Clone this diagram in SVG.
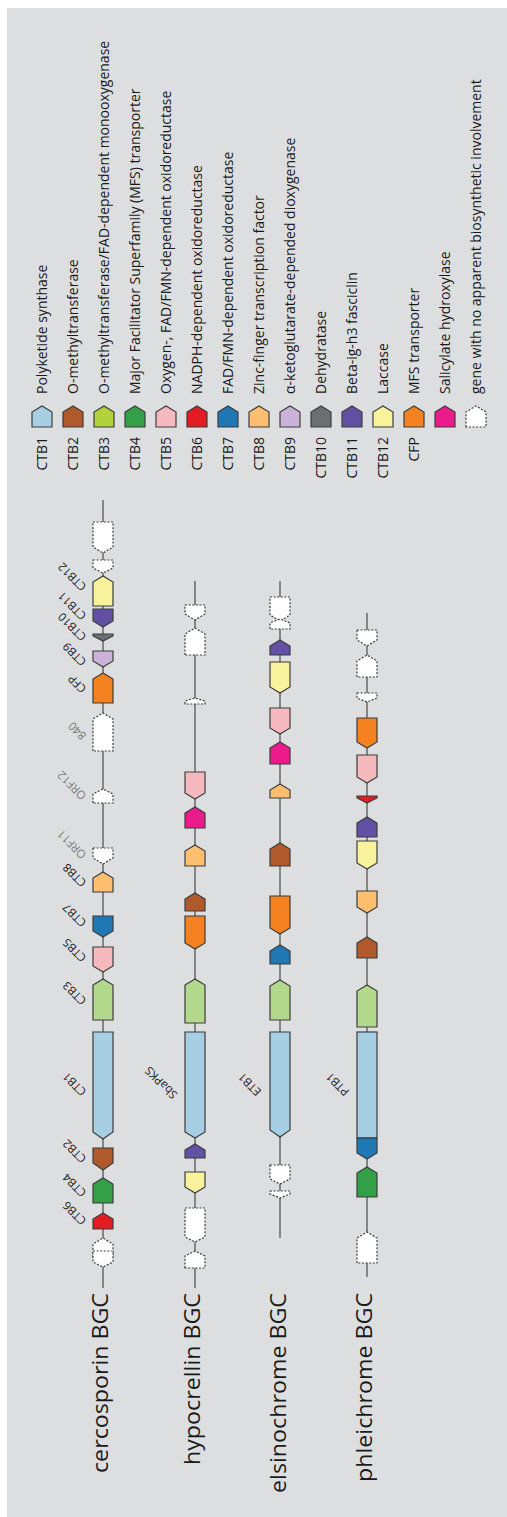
<svg xmlns="http://www.w3.org/2000/svg" width="507" height="1517" viewBox="0 0 507 1517">
<style>
.bg{fill:#dddee0}
.g{stroke:#3c3c3c;stroke-width:1.2;stroke-linejoin:miter}
.d{fill:#fff;stroke:#3c3c3c;stroke-width:1.2;stroke-dasharray:2 1.6}
.trk{stroke:#858585;stroke-width:2;fill:none}
.c1{fill:#a6cfe4}.c2{fill:#b0592a}.c3{fill:#b3da8c}.c3l{fill:#b1d23a}.c4{fill:#33a047}.c5{fill:#f5b9be}.c6{fill:#e31b23}.c7{fill:#1f77b4}.c8{fill:#fdbf6f}.c9{fill:#cbb2d8}.c10{fill:#6d6e70}.c11{fill:#6150a3}.c12{fill:#f8f29c}.cfp{fill:#f58220}.sal{fill:#ec1b8c}
text{font-family:"Open Sans","Liberation Sans",sans-serif;fill:#1a1a1a}
.lg{font-size:14px}
.gl{font-size:11.5px}
.gr{fill:#7a7a7a}
.tt{font-size:21px}
</style>
<rect x="7" y="8" width="500" height="1509" class="bg"/>

<g id="legend">
<g id="leg-ctb1"><polygon class="g c1" points="32,427 32,412 42,406 52,412 52,427"/><text class="lg" text-anchor="end" transform="rotate(-90 47 437)" x="47" y="437">CTB1</text><text class="lg" transform="rotate(-90 47 394)" x="47" y="394">Polyketide synthase</text></g>
<g id="leg-ctb2"><polygon class="g c2" points="63,427 63,412 73,406 83,412 83,427"/><text class="lg" text-anchor="end" transform="rotate(-90 78 437)" x="78" y="437">CTB2</text><text class="lg" transform="rotate(-90 78 394)" x="78" y="394">O-methyltransferase</text></g>
<g id="leg-ctb3"><polygon class="g c3l" points="94,427 94,412 104,406 114,412 114,427"/><text class="lg" text-anchor="end" transform="rotate(-90 109 437)" x="109" y="437">CTB3</text><text class="lg" transform="rotate(-90 109 394)" x="109" y="394">O-methyltransferase/FAD-dependent monooxygenase</text></g>
<g id="leg-ctb4"><polygon class="g c4" points="125,427 125,412 135,406 145,412 145,427"/><text class="lg" text-anchor="end" transform="rotate(-90 140 437)" x="140" y="437">CTB4</text><text class="lg" transform="rotate(-90 140 394)" x="140" y="394">Major Facilitator Superfamily (MFS) transporter</text></g>
<g id="leg-ctb5"><polygon class="g c5" points="156,427 156,412 166,406 176,412 176,427"/><text class="lg" text-anchor="end" transform="rotate(-90 171 437)" x="171" y="437">CTB5</text><text class="lg" transform="rotate(-90 171 394)" x="171" y="394">Oxygen-, FAD/FMN-dependent oxidoreductase</text></g>
<g id="leg-ctb6"><polygon class="g c6" points="187,427 187,412 197,406 207,412 207,427"/><text class="lg" text-anchor="end" transform="rotate(-90 202 437)" x="202" y="437">CTB6</text><text class="lg" transform="rotate(-90 202 394)" x="202" y="394">NADPH-dependent oxidoreductase</text></g>
<g id="leg-ctb7"><polygon class="g c7" points="218,427 218,412 228,406 238,412 238,427"/><text class="lg" text-anchor="end" transform="rotate(-90 233 437)" x="233" y="437">CTB7</text><text class="lg" transform="rotate(-90 233 394)" x="233" y="394">FAD/FMN-dependent oxidoreductase</text></g>
<g id="leg-ctb8"><polygon class="g c8" points="249,427 249,412 259,406 269,412 269,427"/><text class="lg" text-anchor="end" transform="rotate(-90 264 437)" x="264" y="437">CTB8</text><text class="lg" transform="rotate(-90 264 394)" x="264" y="394">Zinc-finger transcription factor</text></g>
<g id="leg-ctb9"><polygon class="g c9" points="280,427 280,412 290,406 300,412 300,427"/><text class="lg" text-anchor="end" transform="rotate(-90 295 437)" x="295" y="437">CTB9</text><text class="lg" transform="rotate(-90 295 394)" x="295" y="394">α-ketoglutarate-depended dioxygenase</text></g>
<g id="leg-ctb10"><polygon class="g c10" points="311,427 311,412 321,406 331,412 331,427"/><text class="lg" text-anchor="end" transform="rotate(-90 326 437)" x="326" y="437">CTB10</text><text class="lg" transform="rotate(-90 326 394)" x="326" y="394">Dehydratase</text></g>
<g id="leg-ctb11"><polygon class="g c11" points="342,427 342,412 352,406 362,412 362,427"/><text class="lg" text-anchor="end" transform="rotate(-90 357 437)" x="357" y="437">CTB11</text><text class="lg" transform="rotate(-90 357 394)" x="357" y="394">Beta-ig-h3 fasciclin</text></g>
<g id="leg-ctb12"><polygon class="g c12" points="373,427 373,412 383,406 393,412 393,427"/><text class="lg" text-anchor="end" transform="rotate(-90 388 437)" x="388" y="437">CTB12</text><text class="lg" transform="rotate(-90 388 394)" x="388" y="394">Laccase</text></g>
<g id="leg-cfp"><polygon class="g cfp" points="404,427 404,412 414,406 424,412 424,427"/><text class="lg" text-anchor="end" transform="rotate(-90 419 437)" x="419" y="437">CFP</text><text class="lg" transform="rotate(-90 419 394)" x="419" y="394">MFS transporter</text></g>
<g id="leg-sal"><polygon class="g sal" points="435,427 435,412 445,406 455,412 455,427"/><text class="lg" transform="rotate(-90 450 394)" x="450" y="394">Salicylate hydroxylase</text></g>
<g id="leg-gene"><polygon class="d" points="466,427 466,412 476,406 486,412 486,427"/><text class="lg" transform="rotate(-90 481 394)" x="481" y="394">gene with no apparent biosynthetic involvement</text></g>
</g>

<g id="connectors">
<line class="trk" x1="103" y1="500" x2="103" y2="1288"/>
<line class="trk" x1="195" y1="581" x2="195" y2="1288"/>
<line class="trk" x1="280" y1="581" x2="280" y2="1238"/>
<line class="trk" x1="367" y1="613" x2="367" y2="1277"/>
</g>

<g id="titles">
<text id="t-cerco" class="tt" text-anchor="end" textLength="180" lengthAdjust="spacingAndGlyphs" transform="rotate(-90 108 1293)" x="108" y="1293">cercosporin BGC</text>
<text id="t-hypo" class="tt" text-anchor="end" textLength="172" lengthAdjust="spacingAndGlyphs" transform="rotate(-90 200 1293)" x="200" y="1293">hypocrellin BGC</text>
<text id="t-elsi" class="tt" text-anchor="end" textLength="200" lengthAdjust="spacingAndGlyphs" transform="rotate(-90 286 1293)" x="286" y="1293">elsinochrome BGC</text>
<text id="t-phlei" class="tt" text-anchor="end" textLength="189" lengthAdjust="spacingAndGlyphs" transform="rotate(-90 372 1293)" x="372" y="1293">phleichrome BGC</text>
</g>

<g id="cercosporin">
<g id="ce-d1"><polygon class="d" points="93,522 113,522 113,547 103,553 93,547"/></g>
<g id="ce-d2"><polygon class="d" points="93,560 113,560 113,568 103,573 93,568"/></g>
<g id="ce-ctb12"><polygon class="g c12" points="93,606 93,582 103,576 113,582 113,606"/><text class="gl" transform="rotate(-135 87 586)" x="87" y="586">CTB12</text></g>
<g id="ce-ctb11"><polygon class="g c11" points="93,609 113,609 113,621 103,627 93,621"/><text class="gl" transform="rotate(-135 87 615)" x="87" y="615">CTB11</text></g>
<g id="ce-ctb10"><polygon class="g c10" points="93,634 113,634 113,636 103,641 93,636"/><text class="gl" transform="rotate(-135 87 636)" x="87" y="636">CTB10</text></g>
<g id="ce-ctb9"><polygon class="g c9" points="93,651 113,651 113,661 103,667 93,661"/><text class="gl" transform="rotate(-135 87 661)" x="87" y="661">CTB9</text></g>
<g id="ce-cfp"><polygon class="g cfp" points="93,703 93,679 103,673 113,679 113,703"/><text class="gl" transform="rotate(-135 87 688)" x="87" y="688">CFP</text></g>
<g id="ce-840"><polygon class="d" points="93,751 93,719 103,713 113,719 113,751"/><text class="gl gr" transform="rotate(-135 87 735)" x="87" y="735">840</text></g>
<g id="ce-orf12"><polygon class="d" points="93,803 93,794 103,789 113,794 113,803"/><text class="gl gr" transform="rotate(-135 87 795)" x="87" y="795">ORF12</text></g>
<g id="ce-orf11"><polygon class="d" points="93,848 113,848 113,858 103,864 93,858"/><text class="gl gr" transform="rotate(-135 87 854)" x="87" y="854">ORF11</text></g>
<g id="ce-ctb8"><polygon class="g c8" points="93,892 93,878 103,872 113,878 113,892"/><text class="gl" transform="rotate(-135 87 882)" x="87" y="882">CTB8</text></g>
<g id="ce-ctb7"><polygon class="g c7" points="93,916 113,916 113,931 103,937 93,931"/><text class="gl" transform="rotate(-135 87 922)" x="87" y="922">CTB7</text></g>
<g id="ce-ctb5"><polygon class="g c5" points="93,947 113,947 113,966 103,972 93,966"/><text class="gl" transform="rotate(-135 87 957)" x="87" y="957">CTB5</text></g>
<g id="ce-ctb3"><polygon class="g c3" points="93,1020 93,985 103,979 113,985 113,1020"/><text class="gl" transform="rotate(-135 87 1000)" x="87" y="1000">CTB3</text></g>
<g id="ce-ctb1"><polygon class="g c1" points="93,1032 113,1032 113,1132 103,1139 93,1132"/><text class="gl" transform="rotate(-135 87 1091)" x="87" y="1091">CTB1</text></g>
<g id="ce-ctb2"><polygon class="g c2" points="93,1148 113,1148 113,1163 103,1170 93,1163"/><text class="gl" transform="rotate(-135 87 1158)" x="87" y="1158">CTB2</text></g>
<g id="ce-ctb4"><polygon class="g c4" points="93,1203 93,1184 103,1178 113,1184 113,1203"/><text class="gl" transform="rotate(-135 87 1192)" x="87" y="1192">CTB4</text></g>
<g id="ce-ctb6"><polygon class="g c6" points="93,1229 93,1219 103,1213 113,1219 113,1229"/><text class="gl" transform="rotate(-135 87 1220)" x="87" y="1220">CTB6</text></g>
<g id="ce-d3"><polygon class="d" points="93,1257 93,1244 103,1238 113,1244 113,1257"/></g>
<g id="ce-d4"><polygon class="d" points="93,1251 113,1251 113,1262 103,1267 93,1262"/></g>
</g>

<g id="hypocrellin">
<g id="hy-d1"><polygon class="d" points="185,605 205,605 205,614 195,620 185,614"/></g>
<g id="hy-d2"><polygon class="d" points="185,655 185,634 195,628 205,634 205,655"/></g>
<g id="hy-d3"><polygon class="d" points="185,704 185,701 195,698 205,701 205,704"/></g>
<g id="hy-ctb5"><polygon class="g c5" points="185,772 205,772 205,793 195,799 185,793"/></g>
<g id="hy-sal"><polygon class="g sal" points="185,828 185,813 195,807 205,813 205,828"/></g>
<g id="hy-ctb8"><polygon class="g c8" points="185,866 185,851 195,845 205,851 205,866"/></g>
<g id="hy-ctb2"><polygon class="g c2" points="185,911 185,899 195,893 205,899 205,911"/></g>
<g id="hy-cfp"><polygon class="g cfp" points="185,916 205,916 205,943 195,949 185,943"/></g>
<g id="hy-ctb3"><polygon class="g c3" points="185,1023 185,985 195,979 205,985 205,1023"/></g>
<g id="hy-sbapks"><polygon class="g c1" points="185,1032 205,1032 205,1132 195,1138 185,1132"/><text class="gl" transform="rotate(-135 178 1094)" x="178" y="1094">SbaPKS</text></g>
<g id="hy-ctb11"><polygon class="g c11" points="185,1158 185,1150 195,1144 205,1150 205,1158"/></g>
<g id="hy-ctb12"><polygon class="g c12" points="185,1172 205,1172 205,1187 195,1193 185,1187"/></g>
<g id="hy-d4"><polygon class="d" points="185,1208 205,1208 205,1237 195,1242 185,1237"/></g>
<g id="hy-d5"><polygon class="d" points="185,1268 185,1256 195,1251 205,1256 205,1268"/></g>
</g>

<g id="elsinochrome">
<g id="el-d1"><polygon class="d" points="270,597 290,597 290,615 280,621 270,615"/></g>
<g id="el-d2"><polygon class="d" points="270,629 270,623 280,619 290,623 290,629"/></g>
<g id="el-ctb11"><polygon class="g c11" points="270,655 270,646 280,640 290,646 290,655"/></g>
<g id="el-ctb12"><polygon class="g c12" points="270,662 290,662 290,687 280,693 270,687"/></g>
<g id="el-ctb5"><polygon class="g c5" points="270,708 290,708 290,728 280,734 270,728"/></g>
<g id="el-sal"><polygon class="g sal" points="270,764 270,748 280,742 290,748 290,764"/></g>
<g id="el-ctb8"><polygon class="g c8" points="270,798 270,790 280,784 290,790 290,798"/></g>
<g id="el-ctb2"><polygon class="g c2" points="270,866 270,849 280,843 290,849 290,866"/></g>
<g id="el-cfp"><polygon class="g cfp" points="270,896 290,896 290,928 280,934 270,928"/></g>
<g id="el-ctb7"><polygon class="g c7" points="270,964 270,951 280,945 290,951 290,964"/></g>
<g id="el-ctb3"><polygon class="g c3" points="270,1020 270,986 280,980 290,986 290,1020"/></g>
<g id="el-etb1"><polygon class="g c1" points="270,1032 290,1032 290,1130 280,1137 270,1130"/><text class="gl" transform="rotate(-135 262 1091)" x="262" y="1091">ETB1</text></g>
<g id="el-d3"><polygon class="d" points="270,1165 290,1165 290,1179 280,1184 270,1179"/></g>
<g id="el-d4"><polygon class="d" points="270,1191 290,1191 290,1194 280,1198 270,1194"/></g>
</g>

<g id="phleichrome">
<g id="ph-d1"><polygon class="d" points="357,630 377,630 377,640 367,646 357,640"/></g>
<g id="ph-d2"><polygon class="d" points="357,677 357,661 367,655 377,661 377,677"/></g>
<g id="ph-d3"><polygon class="d" points="357,693 377,693 377,698 367,702 357,698"/></g>
<g id="ph-cfp"><polygon class="g cfp" points="357,718 377,718 377,742 367,748 357,742"/></g>
<g id="ph-ctb5"><polygon class="g c5" points="357,755 377,755 377,777 367,783 357,777"/></g>
<g id="ph-ctb6"><polygon class="g c6" points="357,796 377,796 377,798 367,803 357,798"/></g>
<g id="ph-ctb11"><polygon class="g c11" points="357,837 357,823 367,817 377,823 377,837"/></g>
<g id="ph-ctb12"><polygon class="g c12" points="357,841 377,841 377,863 367,869 357,863"/></g>
<g id="ph-ctb8"><polygon class="g c8" points="357,891 377,891 377,907 367,913 357,907"/></g>
<g id="ph-ctb2"><polygon class="g c2" points="357,958 357,943 367,937 377,943 377,958"/></g>
<g id="ph-ctb3"><polygon class="g c3" points="357,1027 357,991 367,985 377,991 377,1027"/></g>
<g id="ph-ptb1"><rect class="g c1" x="357" y="1032" width="20" height="106"/><polygon class="g c7" points="357,1138 377,1138 377,1153 367,1159 357,1153"/><text class="gl" transform="rotate(-135 350 1091)" x="350" y="1091">PTB1</text></g>
<g id="ph-ctb4"><polygon class="g c4" points="357,1197 357,1173 367,1167 377,1173 377,1197"/></g>
<g id="ph-d4"><polygon class="d" points="357,1263 357,1238 367,1232 377,1238 377,1263"/></g>
</g>
</svg>
